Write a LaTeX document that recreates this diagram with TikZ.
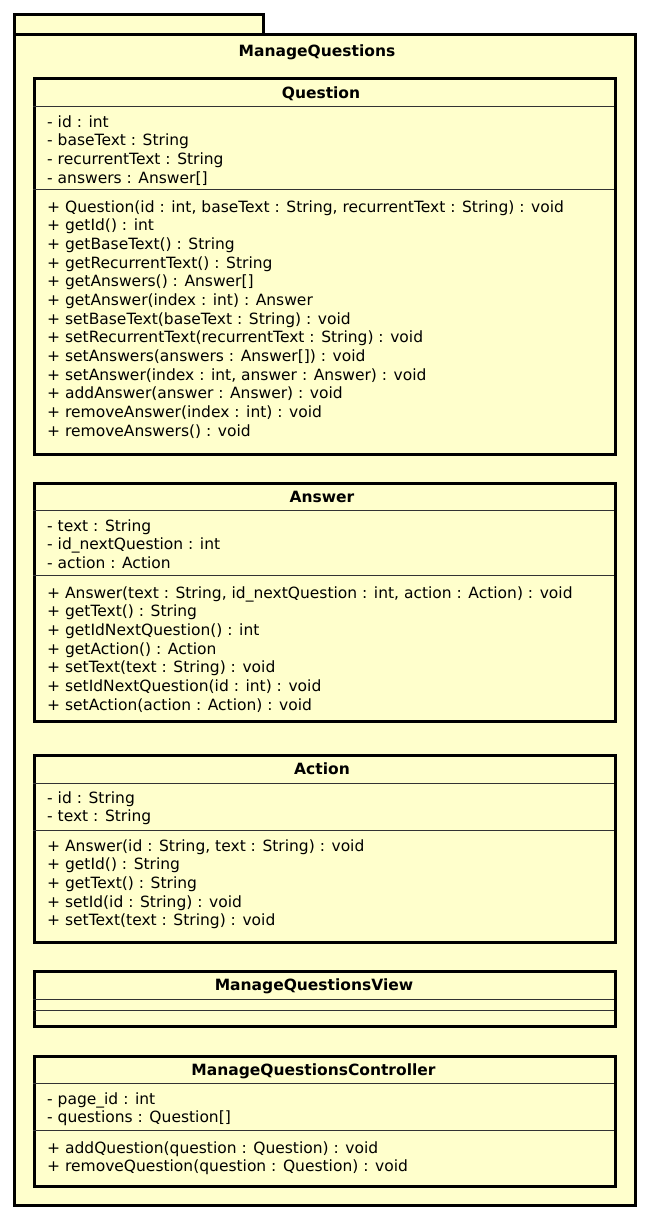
\documentclass[tikz,border=0pt]{standalone}
\usepackage{fontspec}
\setmainfont{DejaVu Sans}
\definecolor{umlfill}{HTML}{FFFFCC}
\definecolor{divline}{HTML}{333333}
\tikzset{
  pkg/.style={draw=black, line width=3pt, fill=umlfill},
  cls/.style={draw=black, line width=2.5pt, fill=umlfill},
  divider/.style={draw=divline, line width=1pt},
  title/.style={font=\fontsize{15.5}{18}\selectfont\bfseries, inner sep=0pt, anchor=base},
  member/.style={font=\fontsize{15.5}{18}\selectfont, inner sep=0pt, anchor=base west},
}
\newcommand{\members}[4]{% prefix, start y, list
  \foreach \t [count=\i] in {#4} {
    \node[member] (#1\i) at (47, {#2 + 5 + (\i-1)*18.67}) {\t};
  }
}
\begin{document}
\begin{tikzpicture}[x=1pt,y=-1pt]
\useasboundingbox (0,0) rectangle (649,1218);
% package
\node[pkg, minimum width=249pt, minimum height=20pt, anchor=north west, inner sep=0pt] (tab) at (13,13) {};
\node[pkg, minimum width=621pt, minimum height=1171pt, anchor=north west, inner sep=0pt] (pkgbody) at (13,33) {};
\node[title] (pkgname) at (317,56) {ManageQuestions};

% Question
\node[cls, minimum width=581pt, minimum height=376pt, anchor=north west, inner sep=0pt] (q) at (33,77) {};
\node[title] (qname) at (321,98.5) {Question};
\draw[divider] (33,106) -- (614,106);
\draw[divider] (33,189) -- (614,189);
\members{qa}{122}{}{{- id : int},{- baseText : String},{- recurrentText : String},{- answers : Answer[]}}
\members{qm}{207}{}{{+ Question(id : int, baseText : String, recurrentText : String) : void},{+ getId() : int},{+ getBaseText() : String},{+ getRecurrentText() : String},{+ getAnswers() : Answer[]},{+ getAnswer(index : int) : Answer},{+ setBaseText(baseText : String) : void},{+ setRecurrentText(recurrentText : String) : void},{+ setAnswers(answers : Answer[]) : void},{+ setAnswer(index : int, answer : Answer) : void},{+ addAnswer(answer : Answer) : void},{+ removeAnswer(index : int) : void},{+ removeAnswers() : void}}

% Answer
\node[cls, minimum width=581pt, minimum height=238pt, anchor=north west, inner sep=0pt] (a) at (33,482) {};
\node[title] (aname) at (322,502.5) {Answer};
\draw[divider] (33,510) -- (614,510);
\draw[divider] (33,575) -- (614,575);
\members{aa}{526}{}{{- text : String},{- id\_nextQuestion : int},{- action : Action}}
\members{am}{593}{}{{+ Answer(text : String, id\_nextQuestion : int, action : Action) : void},{+ getText() : String},{+ getIdNextQuestion() : int},{+ getAction() : Action},{+ setText(text : String) : void},{+ setIdNextQuestion(id : int) : void},{+ setAction(action : Action) : void}}

% Action
\node[cls, minimum width=581pt, minimum height=187pt, anchor=north west, inner sep=0pt] (act) at (33,754) {};
\node[title] (actname) at (322,774.5) {Action};
\draw[divider] (33,783) -- (614,783);
\draw[divider] (33,830) -- (614,830);
\members{acta}{798}{}{{- id : String},{- text : String}}
\members{actm}{846}{}{{+ Answer(id : String, text : String) : void},{+ getId() : String},{+ getText() : String},{+ setId(id : String) : void},{+ setText(text : String) : void}}

% ManageQuestionsView
\node[cls, minimum width=581pt, minimum height=55pt, anchor=north west, inner sep=0pt] (v) at (33,970) {};
\node[title] (vname) at (314,990.5) {ManageQuestionsView};
\draw[divider] (33,999) -- (614,999);
\draw[divider] (33,1010) -- (614,1010);

% ManageQuestionsController
\node[cls, minimum width=581pt, minimum height=130pt, anchor=north west, inner sep=0pt] (c) at (33,1055) {};
\node[title] (cname) at (313.5,1075) {ManageQuestionsController};
\draw[divider] (33,1083) -- (614,1083);
\draw[divider] (33,1130) -- (614,1130);
\members{ca}{1099}{}{{- page\_id : int},{- questions : Question[]}}
\members{cm}{1148}{}{{+ addQuestion(question : Question) : void},{+ removeQuestion(question : Question) : void}}
\end{tikzpicture}
\end{document}
